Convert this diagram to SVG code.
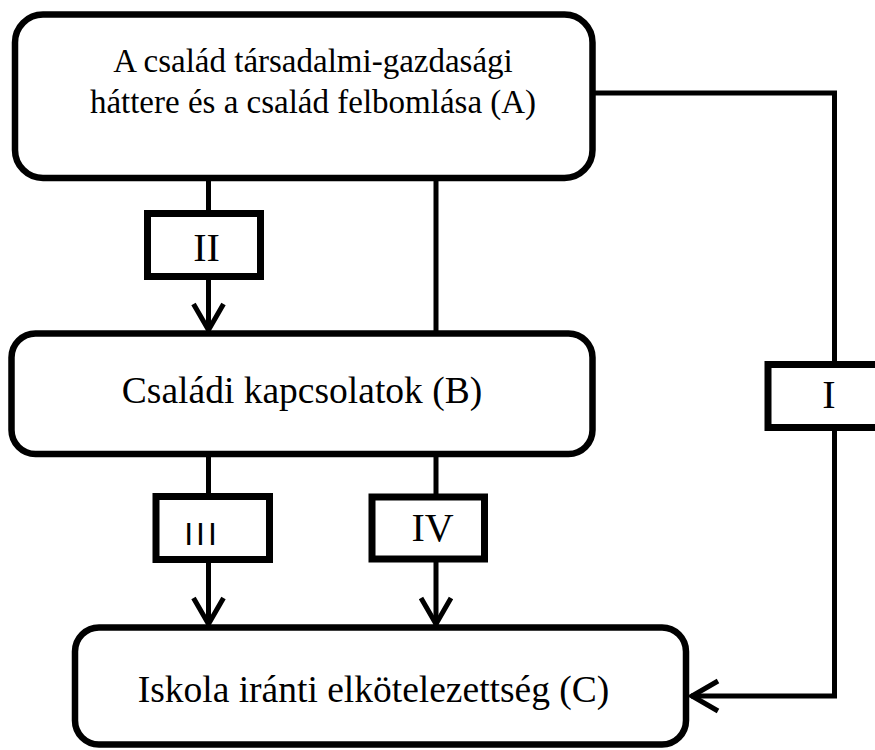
<svg xmlns="http://www.w3.org/2000/svg" width="875" height="750" viewBox="0 0 875 750">
  <defs>
    <style>
      .node { fill: #ffffff; stroke: #000000; stroke-width: 6.5; }
      .lbl { fill: #ffffff; stroke: #000000; stroke-width: 7; }
      .conn { fill: none; stroke: #000000; stroke-width: 5; }
      .t { font-family: "Liberation Serif", "Times New Roman", serif; fill: #000000; text-anchor: middle; }
      .tl { font-family: "Liberation Serif", "Times New Roman", serif; fill: #000000; text-anchor: middle; font-size: 40px; }
    </style>
    <marker id="arr" markerUnits="userSpaceOnUse" markerWidth="40" markerHeight="40" viewBox="-30 -20 40 40" refX="0" refY="0" orient="auto" overflow="visible">
      <path d="M -27 -15 L -1 0 L -27 15" fill="none" stroke="#000000" stroke-width="5" stroke-linejoin="miter"/>
    </marker>
  </defs>
  <rect width="875" height="750" fill="#ffffff"/>

  <g id="connectors">
    <path class="conn" d="M 208.5 178 L 208.5 331" marker-end="url(#arr)"/>
    <path class="conn" d="M 436 178 L 436 334"/>
    <path class="conn" d="M 208.5 455 L 208.5 625" marker-end="url(#arr)"/>
    <path class="conn" d="M 436 455 L 436 625" marker-end="url(#arr)"/>
    <path class="conn" d="M 592.5 93 L 834.5 93 L 834.5 696 L 691 696" marker-end="url(#arr)"/>
  </g>

  <g id="nodeA">
    <rect class="node" x="15" y="14.5" width="577.5" height="163.5" rx="28" ry="28"/>
    <text class="t" x="313" y="72" font-size="33">A család társadalmi-gazdasági</text>
    <text class="t" x="313" y="113" font-size="33">háttere és a család felbomlása (A)</text>
  </g>

  <g id="nodeB">
    <rect class="node" x="11.5" y="333.5" width="581" height="120.5" rx="24" ry="24"/>
    <text class="t" x="302" y="403" font-size="37.5">Családi kapcsolatok (B)</text>
  </g>

  <g id="nodeC">
    <rect class="node" x="75" y="627.5" width="611" height="117" rx="24" ry="24"/>
    <text class="t" x="373.5" y="702" font-size="37.5">Iskola iránti elkötelezettség (C)</text>
  </g>

  <g id="labelII">
    <rect class="lbl" x="147.5" y="213.5" width="113" height="63"/>
    <text class="tl" x="206.5" y="261">II</text>
  </g>

  <g id="labelIII">
    <rect class="lbl" x="156" y="496.5" width="113.5" height="63"/>
    <text x="202" y="545" font-family="Liberation Sans, Arial, sans-serif" font-size="32" letter-spacing="3" text-anchor="middle" fill="#000000">III</text>
  </g>

  <g id="labelIV">
    <rect class="lbl" x="372" y="497" width="112.5" height="62"/>
    <text class="tl" x="432.5" y="541">IV</text>
  </g>

  <g id="labelI">
    <rect class="lbl" x="768" y="364.5" width="140" height="63"/>
    <text class="tl" x="829" y="408">I</text>
  </g>
</svg>
